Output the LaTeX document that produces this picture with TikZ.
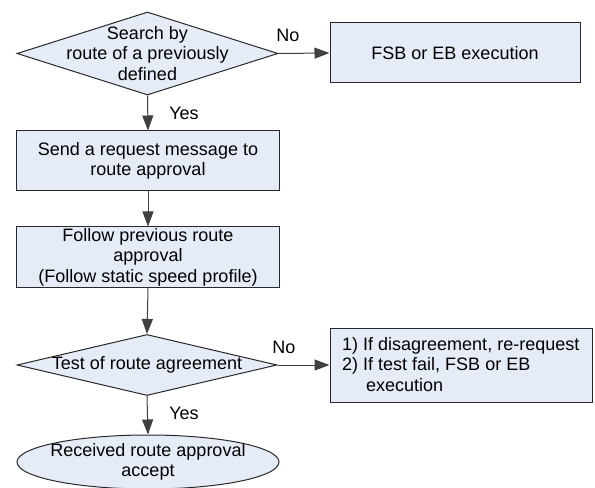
\documentclass[tikz,border=0pt]{standalone}
\usepackage{fontspec}
\setmainfont{Liberation Sans}
\usetikzlibrary{shapes.geometric,arrows.meta}
\definecolor{boxfill}{RGB}{230,236,247}
\definecolor{edge}{RGB}{40,40,40}
\begin{document}
\begin{tikzpicture}[x=1bp,y=-1bp,
  every node/.style={font=\fontsize{18bp}{20.5bp}\selectfont, inner sep=0pt},
  procbox/.style={draw=edge, line width=1bp, fill=boxfill, rectangle, align=center},
  decision/.style={draw=edge, line width=1bp, fill=boxfill, diamond, minimum width=261bp, minimum height=83bp},
  terminal/.style={draw=edge, line width=1bp, fill=boxfill, ellipse, minimum width=262bp, minimum height=54bp},
  txt/.style={align=center},
  flow/.style={draw=black!75, line width=1bp, -{Triangle[length=15bp,width=11bp]}}]
\useasboundingbox (0,0) rectangle (595,488);

% decision: route search
\node[decision, minimum height=83bp] (d1) at (147.5,53.5) {};
\node[txt] (d1t) at (d1.center) {Search by\\route of a previously\\defined};

% brake outcome
\node[procbox, minimum width=250bp, minimum height=60bp] (fsb) at (455,53) {FSB or EB execution};

% request and follow steps
\node[procbox, minimum width=262bp, minimum height=60bp] (b2) at (148,161) {Send a request message to\\route approval};
\node[procbox, minimum width=262bp, minimum height=60bp] (b3) at (148,257) {Follow previous route\\approval\\(Follow static speed profile)};

% decision: agreement test
\node[decision, minimum width=260bp, minimum height=61bp] (d2) at (147,365) {};
\node[txt] (d2t) at (d2.center) {Test of route agreement};

% failure handling
\node[procbox, minimum width=262bp, minimum height=74bp] (b4) at (461,365) {};
\node[align=left, anchor=west] (b4t) at (342,364.5) {1) If disagreement, re-request\\2) If test fail, FSB or EB\\\hspace*{24bp}execution};

% final state
\node[terminal] (acc) at (148,462) {};
\node[txt] (acct) at (acc.center) {Received route approval\\accept};

% connectors
\draw[flow] (d1.east) -- (fsb.west);
\draw[flow] (d1.south) -- (b2.north);
\draw[flow] (b2.south) -- (b3.north);
\draw[flow] (b3.south) -- (d2.north);
\draw[flow] (d2.east) -- (d2.east -| b4.west);
\draw[flow] (d2.south) -- (acc.north);

% branch labels
\node (no1) at (288,35) {No};
\node (yes1) at (184,113) {Yes};
\node (no2) at (284,347) {No};
\node (yes2) at (184,413) {Yes};
\end{tikzpicture}
\end{document}
